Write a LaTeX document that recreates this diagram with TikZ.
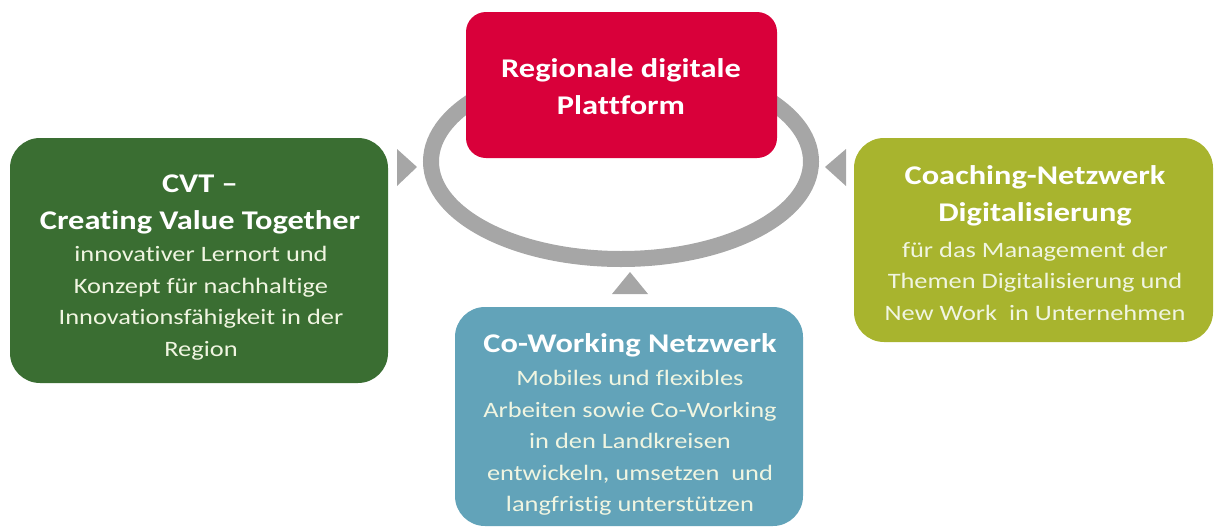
\documentclass[tikz,border=0pt]{standalone}
\usepackage{fontspec}
\setmainfont{Carlito}[FakeStretch=1.2,Ligatures={NoCommon}]
\definecolor{cvtgreen}{RGB}{58,110,50}
\definecolor{platred}{RGB}{217,0,58}
\definecolor{coachol}{RGB}{168,180,46}
\definecolor{cowblue}{RGB}{98,163,185}
\definecolor{ringgray}{RGB}{166,166,166}
\definecolor{bodytxt}{RGB}{240,245,225}
\begin{document}
\begin{tikzpicture}[x=1pt,y=1pt,
  ttl/.style={font=\fontsize{27}{37}\selectfont\bfseries, text=white, align=center, inner sep=0pt},
  bdy/.style={font=\fontsize{22}{31.5}\selectfont, text=bodytxt, align=center, inner sep=0pt},
  tri/.style={fill=ringgray, draw=none}]
\useasboundingbox (0,0) rectangle (1215,-528);
% ring
\draw[ringgray, line width=16pt] (621,-161.5) ellipse [x radius=190, y radius=97.5];
% boxes
\fill[platred, rounded corners=20] (466,-12) rectangle (777,-158);
\fill[cvtgreen, rounded corners=30] (10,-138) rectangle (388,-383);
\fill[coachol, rounded corners=30] (854,-138) rectangle (1213,-342);
\fill[cowblue, rounded corners=30] (455,-307) rectangle (803,-526);
% triangles
\fill[tri] (397,-149) -- (417,-167) -- (397,-186) -- cycle;
\fill[tri] (846,-149) -- (825,-167) -- (846,-186) -- cycle;
\fill[tri] (612,-294) -- (630,-272) -- (648,-294) -- cycle;
% texts
\node[ttl] (plat) at (621,-87) {Regionale digitale\\Plattform};
\node[ttl] (cvtt) at (200,-204) {CVT --\\Creating Value Together};
\node[bdy] (cvtb) at (201,-303) {innovativer Lernort und\\Konzept für nachhaltige\\Innovationsfähigkeit in der\\Region};
\node[ttl] (coat) at (1035,-196) {Coaching-Netzwerk\\Digitalisierung};
\node[bdy] (coab) at (1035,-281) {für das Management der\\Themen Digitalisierung und\\New Work\ \ in Unternehmen};
\node[ttl] (cowt) at (630,-345) {Co-Working Netzwerk};
\node[bdy] (cowb) at (630,-443) {Mobiles und flexibles\\Arbeiten sowie Co-Working\\in den Landkreisen\\entwickeln, umsetzen\ \ und\\langfristig unterstützen};
\end{tikzpicture}
\end{document}
